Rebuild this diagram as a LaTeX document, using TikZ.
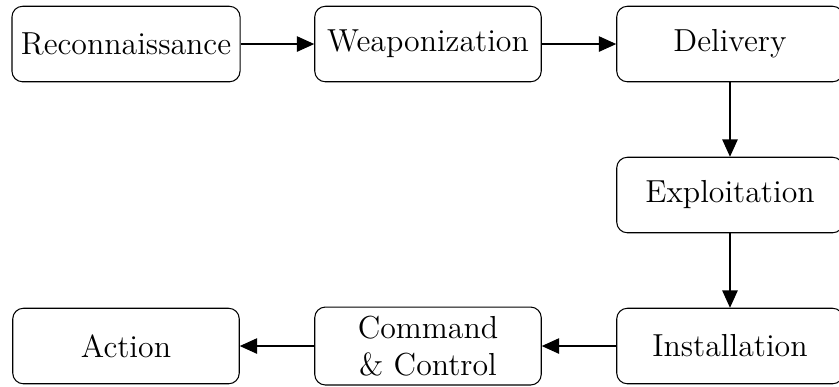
\documentclass[tikz,border=0pt]{standalone}
\usetikzlibrary{arrows.meta}
\begin{document}
\begin{tikzpicture}[
  stagebox/.style={draw, rounded corners=4pt, minimum width=3cm, minimum height=1cm,
    align=center, font=\large, line width=0.4pt},
  flow/.style={-{Triangle[length=6.5pt,width=5.8pt]}, line width=0.4pt}
]
\useasboundingbox (-1.669,0.583) rectangle (9.444,-4.530);
\node[stagebox] (recon) at (0,0) {Reconnaissance};
\node[stagebox] (weap) at (4,0) {Weaponization};
\node[stagebox] (deliv) at (8,0) {Delivery};
\node[stagebox] (expl) at (8,-2) {Exploitation};
\node[stagebox] (inst) at (8,-4) {Installation};
\node[stagebox] (cc) at (4,-4) {Command\\\& Control};
\node[stagebox] (act) at (0,-4) {Action};
\draw[flow] (recon) -- (weap);
\draw[flow] (weap) -- (deliv);
\draw[flow] (deliv) -- (expl);
\draw[flow] (expl) -- (inst);
\draw[flow] (inst) -- (cc);
\draw[flow] (cc) -- (act);
\end{tikzpicture}
\end{document}
